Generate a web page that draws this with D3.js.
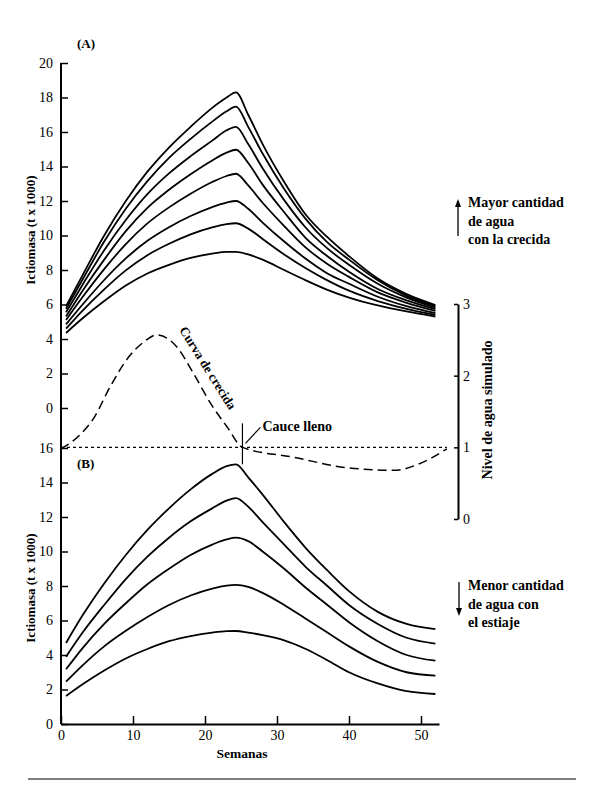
<!DOCTYPE html>
<html><head><meta charset="utf-8">
<script src="https://cdn.jsdelivr.net/npm/d3@7"></script>
<style>
body{margin:0;background:#fff;}
svg text{font-family:"Liberation Serif","DejaVu Serif",serif;fill:#000;}
</style></head>
<body><svg id="c" width="600" height="800"></svg>
<script>
// ---- data ----
const weeks = [0.7, 3, 6, 9, 12, 15, 18, 21, 23, 24.3, 26, 28, 31, 34, 37, 40, 44, 48, 52];
// Panel A: ictiomasa (t x 1000), mayor cantidad de agua
const a1 = [5.9, 7.7, 10.0, 12.0, 13.7, 15.1, 16.3, 17.4, 18.0, 18.3, 17.0, 15.3, 13.1, 11.2, 9.9, 8.8, 7.5, 6.6, 5.97];
const a2 = [5.75, 7.45, 9.65, 11.55, 13.15, 14.5, 15.6, 16.6, 17.2, 17.47, 16.3, 14.75, 12.7, 10.95, 9.6, 8.6, 7.4, 6.5, 5.9];
const a3 = [5.55, 7.15, 9.15, 10.9, 12.4, 13.6, 14.6, 15.5, 16.1, 16.3, 15.3, 13.9, 12.05, 10.45, 9.25, 8.3, 7.2, 6.4, 5.82];
const a4 = [5.3, 6.8, 8.6, 10.25, 11.6, 12.65, 13.55, 14.35, 14.8, 14.97, 14.2, 12.95, 11.35, 9.85, 8.8, 7.9, 6.9, 6.24, 5.73];
const a5 = [5.1, 6.43, 8.05, 9.5, 10.7, 11.63, 12.42, 13.1, 13.45, 13.58, 12.9, 11.9, 10.55, 9.3, 8.35, 7.6, 6.7, 6.1, 5.63];
const a6 = [4.85, 6.0, 7.42, 8.67, 9.69, 10.48, 11.13, 11.65, 11.91, 12.0, 11.55, 10.75, 9.65, 8.65, 7.8, 7.2, 6.45, 5.9, 5.5];
const a7 = [4.6, 5.65, 6.88, 7.98, 8.86, 9.52, 10.07, 10.47, 10.66, 10.71, 10.4, 9.8, 8.9, 8.1, 7.4, 6.8, 6.2, 5.75, 5.4];
const a8 = [4.35, 5.2, 6.2, 7.1, 7.8, 8.3, 8.7, 8.95, 9.05, 9.05, 8.9, 8.6, 8.0, 7.4, 6.85, 6.4, 5.95, 5.6, 5.3];
// Panel B: ictiomasa (t x 1000), menor cantidad de agua
const b1 = [4.7, 6.3, 8.15, 9.8, 11.25, 12.5, 13.6, 14.5, 14.95, 15.05, 14.3, 13.3, 11.7, 10.2, 8.9, 7.7, 6.5, 5.8, 5.5];
const b2 = [3.9, 5.3, 6.9, 8.4, 9.7, 10.8, 11.75, 12.5, 12.95, 13.1, 12.6, 11.7, 10.4, 9.1, 8.0, 6.9, 5.8, 5.0, 4.66];
const b3 = [3.17, 4.4, 5.8, 7.0, 8.1, 9.0, 9.8, 10.4, 10.7, 10.8, 10.6, 10.0, 9.0, 7.9, 6.9, 5.9, 4.8, 4.0, 3.67];
const b4 = [2.45, 3.4, 4.5, 5.4, 6.2, 6.9, 7.45, 7.85, 8.02, 8.06, 7.95, 7.6, 6.9, 6.1, 5.3, 4.5, 3.6, 3.0, 2.8];
const b5 = [1.62, 2.3, 3.1, 3.8, 4.35, 4.8, 5.1, 5.3, 5.38, 5.39, 5.3, 5.15, 4.85, 4.35, 3.7, 3.0, 2.35, 1.9, 1.74];
// Curva de crecida: nivel de agua simulado
const floodWeeks = [0, 2.6, 4.5, 6.8, 9.1, 11.5, 13.3, 16.1, 18.4, 20.8, 23.1, 25.2, 32.4, 39.4, 46.3, 50, 53.6];
const floodLevel = [0.98, 1.17, 1.40, 1.84, 2.22, 2.47, 2.57, 2.40, 2.03, 1.61, 1.28, 1.0, 0.86, 0.72, 0.68, 0.78, 0.98];
const cauceLleno = 1; // nivel de cauce lleno
const cauceWeek = 25.2;
// ticks
const ticksA = [0, 2, 4, 6, 8, 10, 12, 14, 16, 18, 20];
const ticksB = [0, 2, 4, 6, 8, 10, 12, 14, 16];
const ticksL = [0, 1, 2, 3];
const ticksX = [0, 10, 20, 30, 40, 50];

const seriesA = [a1, a2, a3, a4, a5, a6, a7, a8];
const seriesB = [b1, b2, b3, b4, b5];

// ---- scales ----
const x = d3.scaleLinear().domain([0, 52.5]).range([61, 439]);
const yA = d3.scaleLinear().domain([0, 20]).range([408, 63]);
const yB = d3.scaleLinear().domain([0, 16]).range([724, 448]);
const yL = d3.scaleLinear().domain([0, 3]).range([519, 304]);

const svg = d3.select("#c");
const FS = "14px";

// left axis line (continuous)
svg.append("line").attr("x1", x(0)).attr("x2", x(0)).attr("y1", yA(20)).attr("y2", yB(0))
  .attr("stroke", "#000").attr("stroke-width", 2);

function styleAxis(g){
  g.select(".domain").remove();
  g.selectAll(".tick line").attr("stroke","#000").attr("stroke-width",1.5);
  g.selectAll(".tick text").style("font-size", FS).attr("fill","#000");
}
svg.append("g").attr("transform", `translate(${x(0)},0)`)
  .call(d3.axisLeft(yA).tickValues(ticksA).tickSize(-7).tickSizeOuter(0).tickPadding(8).tickFormat(d3.format("d")))
  .call(styleAxis);
svg.append("g").attr("transform", `translate(${x(0)},0)`)
  .call(d3.axisLeft(yB).tickValues(ticksB).tickSize(-7).tickSizeOuter(0).tickPadding(8).tickFormat(d3.format("d")))
  .call(styleAxis);

// bottom axis
const gx = svg.append("g").attr("transform", `translate(0,${yB(0)})`)
  .call(d3.axisBottom(x).tickValues(ticksX).tickSize(-8).tickSizeOuter(0).tickPadding(6).tickFormat(d3.format("d")));
gx.select(".domain").attr("stroke","#000").attr("stroke-width",2);
gx.selectAll(".tick line").attr("stroke","#000").attr("stroke-width",1.5);
gx.selectAll(".tick text").style("font-size", FS);

// right axis (nivel de agua)
const gr = svg.append("g").attr("transform", `translate(458,0)`)
  .call(d3.axisRight(yL).tickValues(ticksL).tickSize(-4).tickSizeOuter(0).tickPadding(5).tickFormat(d3.format("d")));
gr.select(".domain").attr("stroke","#000").attr("stroke-width",2);
gr.selectAll(".tick line").attr("stroke","#000").attr("stroke-width",1.5);
gr.selectAll(".tick text").style("font-size", FS);

// curves
const lineA = d3.line().x((d,i)=>x(weeks[i])).y(d=>yA(d)).curve(d3.curveMonotoneX);
const lineB = d3.line().x((d,i)=>x(weeks[i])).y(d=>yB(d)).curve(d3.curveMonotoneX);
svg.append("g").selectAll("path").data(seriesA).join("path")
  .attr("d", lineA).attr("fill","none").attr("stroke","#000").attr("stroke-width",1.8);
svg.append("g").selectAll("path").data(seriesB).join("path")
  .attr("d", lineB).attr("fill","none").attr("stroke","#000").attr("stroke-width",1.8);

// cauce lleno dotted line
svg.append("line").attr("x1", x(0)).attr("x2", x(53.6)).attr("y1", yL(cauceLleno)).attr("y2", yL(cauceLleno))
  .attr("stroke","#000").attr("stroke-width",1.4).attr("stroke-dasharray","3,3");

// flood curve dashed
const lineF = d3.line().x((d,i)=>x(floodWeeks[i])).y(d=>yL(d)).curve(d3.curveMonotoneX);
svg.append("path").datum(floodLevel).attr("d", lineF).attr("fill","none")
  .attr("stroke","#000").attr("stroke-width",1.5).attr("stroke-dasharray","9,5");

// cauce lleno marker
const cx = x(cauceWeek), cy = yL(cauceLleno);
svg.append("line").attr("x1",cx).attr("x2",cx).attr("y1",cy-24).attr("y2",cy+17).attr("stroke","#000").attr("stroke-width",1.2);
svg.append("line").attr("x1",cx+3).attr("x2",cx+18).attr("y1",cy-4).attr("y2",cy-20).attr("stroke","#000").attr("stroke-width",1.2);
svg.append("text").attr("x",cx+20).attr("y",cy-16).style("font-size","14px").style("font-weight","bold").text("Cauce lleno");

// Curva de crecida label
svg.append("text").attr("transform","translate(179,330) rotate(58)").style("font-size","13px").style("font-weight","bold").text("Curva de crecida");

// panel labels
svg.append("text").attr("x",77).attr("y",48).style("font-size","13px").style("font-weight","bold").text("(A)");
svg.append("text").attr("x",77).attr("y",468).style("font-size","13px").style("font-weight","bold").text("(B)");

// axis titles
svg.append("text").attr("transform","translate(35,230) rotate(-90)").attr("text-anchor","middle").style("font-size","13px").style("font-weight","bold").text("Ictiomasa (t x 1000)");
svg.append("text").attr("transform","translate(35,588) rotate(-90)").attr("text-anchor","middle").style("font-size","13px").style("font-weight","bold").text("Ictiomasa (t x 1000)");
svg.append("text").attr("transform","translate(492,410) rotate(-90)").attr("text-anchor","middle").style("font-size","14px").style("font-weight","bold").text("Nivel de agua simulado");
svg.append("text").attr("x",242).attr("y",758).attr("text-anchor","middle").style("font-size","13.5px").style("font-weight","bold").text("Semanas");

// annotations with arrows
const up = ["Mayor cantidad","de agua","con la crecida"];
up.forEach((t,i)=>svg.append("text").attr("x",468).attr("y",207+i*18.5).style("font-size","14px").style("font-weight","bold").text(t));
svg.append("line").attr("x1",458).attr("x2",458).attr("y1",236).attr("y2",205).attr("stroke","#000").attr("stroke-width",1.3);
svg.append("path").attr("d","M458,199 L455,207 L461,207 Z").attr("fill","#000");
const dn = ["Menor cantidad","de agua con","el estiaje"];
dn.forEach((t,i)=>svg.append("text").attr("x",468).attr("y",590+i*18.5).style("font-size","14px").style("font-weight","bold").text(t));
svg.append("line").attr("x1",459).attr("x2",459).attr("y1",582).attr("y2",610).attr("stroke","#000").attr("stroke-width",1.3);
svg.append("path").attr("d","M459,616 L456,608 L462,608 Z").attr("fill","#000");

// bottom rule
svg.append("line").attr("x1",28).attr("x2",576).attr("y1",779).attr("y2",779).attr("stroke","#000").attr("stroke-width",1);
</script></body></html>
